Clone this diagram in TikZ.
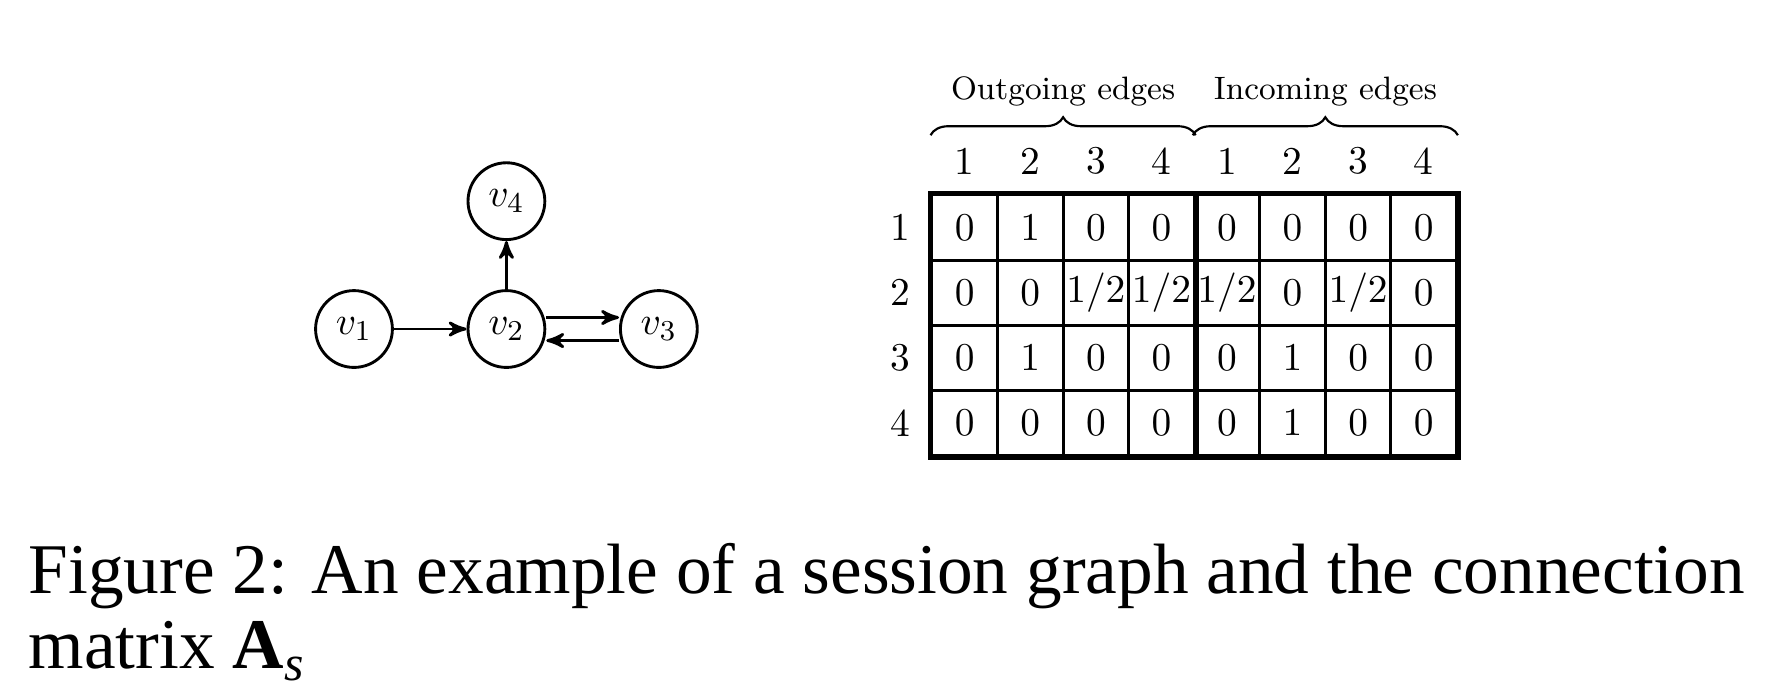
\documentclass[tikz,border=0pt,11pt]{standalone}
\usepackage{amsmath}
\usepackage{fontspec}
\newfontfamily\capfont{Liberation Serif}
\usetikzlibrary{arrows,positioning,decorations.pathreplacing}

\begin{document}
\begin{tikzpicture}[auto, node distance=0.71cm, >=stealth',
  vert/.style={circle, draw, thick, minimum size=0.75cm, inner sep=0pt},
  cell/.style={draw, thick, minimum width=0.64cm, minimum height=0.635cm, inner sep=0pt},
  brc/.style={semithick, decorate, decoration={brace, amplitude=5pt}}]
  \useasboundingbox (0,0) rectangle (17.30,-6.697);
  % session graph
  \node [vert] (v1) at (3.456,-3.212) {$v_1$};
  \node [vert, right=of v1] (v2) {$v_2$};
  \node [vert, right=of v2] (v3) {$v_3$};
  \node [vert, above=0.47cm of v2] (v4) {$v_4$};
  \draw [->, thick] (v1) -- (v2);
  \draw [->, thick] (v2) -- (v4);
  \draw [->, thick] ([yshift=3.2pt]v2.east) -- ([yshift=3.2pt]v3.west);
  \draw [->, thick] ([yshift=-3.2pt]v3.west) -- ([yshift=-3.2pt]v2.east);
  % connection matrix
  \foreach \row [count=\r] in {{0,1,0,0,0,0,0,0},{0,0,1/2,1/2,1/2,0,1/2,0},{0,1,0,0,0,1,0,0},{0,0,0,0,0,1,0,0}} {
    \node (r\r) at (8.787,-1.904-0.635*\r+0.3175) {\r};
    \foreach \val [count=\c] in \row
      \node [cell] (m\r\c) at (9.099+0.64*\c-0.32,-1.904-0.635*\r+0.3175) {$\val$};
  }
  \foreach \lab [count=\c] in {1,2,3,4,1,2,3,4}
    \node (c\c) at (9.099+0.64*\c-0.32,-1.572) {\lab};
  \draw [ultra thick] (m11.north west) rectangle (m48.south east);
  \draw [ultra thick] (m14.north east) -- (m44.south east);
  \draw [brc] ([yshift=0.57cm]m11.north west) -- ([yshift=0.57cm]m14.north east)
    node [midway, above=4pt] (out) {\footnotesize Outgoing edges};
  \draw [brc] ([yshift=0.57cm]m15.north west) -- ([yshift=0.57cm]m18.north east)
    node [midway, above=4pt] (in) {\footnotesize Incoming edges};
  % caption
  \node [anchor=base west, align=left, inner sep=0pt, font=\capfont\fontsize{19.8}{21}\selectfont] (cap) at (0.273,-6.531)
    {Figure 2: An example of a session graph and the connection\\matrix \textbf{A}$_{\textit{s}}$};
\end{tikzpicture}
\end{document}
